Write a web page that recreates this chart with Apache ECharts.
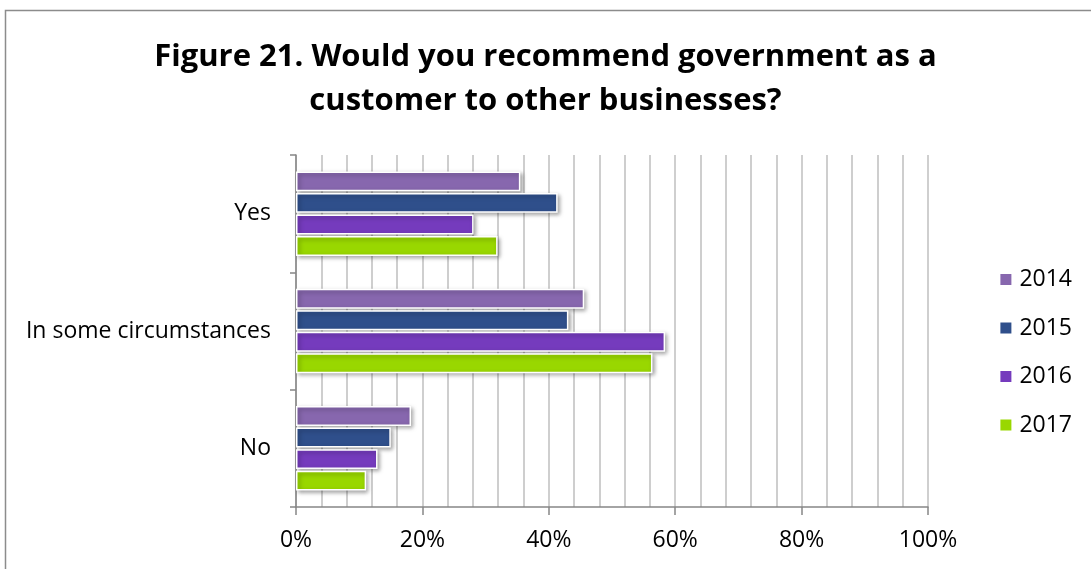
<!DOCTYPE html>
<html>
<head>
<meta charset="utf-8">
<script src="https://cdn.jsdelivr.net/npm/echarts@6/dist/echarts.min.js"></script>
<style>
  html, body { margin: 0; padding: 0; background: #fff; }
  #chart { width: 1091px; height: 569px; }
</style>
</head>
<body>
<div id="chart"></div>
<script>
// Survey answers by year (percent of respondents)
const categories = ['Yes', 'In some circumstances', 'No'];
const years = ['2014', '2015', '2016', '2017'];
const values2014 = [35.5, 45.6, 18.2];
const values2015 = [41.4, 43.1, 15.0];
const values2016 = [28.1, 58.4, 12.9];
const values2017 = [31.9, 56.4, 11.1];
const xTicks = [0, 20, 40, 60, 80, 100];

const seriesValues = [values2014, values2015, values2016, values2017];
const colors = ['#8767AE', '#2F4F8B', '#753BBD', '#99D700'];
const fontFamily = '"Open Sans", Lato, sans-serif';

const chart = echarts.init(document.getElementById('chart'));
chart.setOption({
  animation: false,
  title: {
    text: 'Figure 21. Would you recommend government as a\ncustomer to other businesses?',
    left: 'center',
    top: 30,
    textStyle: {
      fontFamily: fontFamily,
      fontWeight: 'bold',
      fontSize: 31,
      lineHeight: 44,
      color: '#000'
    }
  },
  graphic: [{
    type: 'rect',
    shape: { x: 5.5, y: 10.5, width: 1200, height: 700 },
    style: { fill: 'none', stroke: '#8c8c8c', lineWidth: 1.5 },
    silent: true
  }],
  legend: {
    orient: 'vertical',
    right: 14,
    top: 263,
    itemWidth: 13,
    itemHeight: 13,
    itemGap: 25.5,
    icon: 'rect',
    textStyle: { fontFamily: fontFamily, fontSize: 23, color: '#000', padding: [0, 0, 0, 2] },
    data: years
  },
  grid: {
    left: 296,
    top: 155,
    width: 632,
    height: 352,
    containLabel: false
  },
  xAxis: {
    type: 'value',
    min: xTicks[0],
    max: xTicks[xTicks.length - 1],
    interval: 20,
    axisLine: { show: true, lineStyle: { color: '#868686', width: 1.5 } },
    axisTick: { show: true, length: 8, lineStyle: { color: '#868686', width: 1.5 } },
    axisLabel: {
      formatter: v => v + '%',
      margin: 22,
      fontFamily: fontFamily,
      fontSize: 23,
      color: '#000'
    },
    splitLine: { show: true, lineStyle: { color: '#BFBFBF', width: 1.5 } },
    minorTick: { show: false, splitNumber: 5 },
    minorSplitLine: { show: true, lineStyle: { color: '#BFBFBF', width: 1.5 } }
  },
  yAxis: {
    type: 'category',
    inverse: true,
    data: categories,
    axisLine: { show: true, lineStyle: { color: '#868686', width: 1.5 } },
    axisTick: { show: true, length: 6, lineStyle: { color: '#868686', width: 1.5 } },
    axisLabel: {
      margin: 25,
      fontFamily: fontFamily,
      fontSize: 23,
      color: '#000'
    },
    splitLine: { show: false }
  },
  series: years.map((y, i) => ({
    name: y,
    type: 'bar',
    data: seriesValues[i],
    barCategoryGap: '28%',
    barGap: '8%',
    itemStyle: {
      color: colors[i],
      borderColor: '#fff',
      borderWidth: 1.5,
      shadowColor: 'rgba(0,0,0,0.35)',
      shadowBlur: 4,
      shadowOffsetX: 2,
      shadowOffsetY: 2
    }
  }))
});
</script>
</body>
</html>
